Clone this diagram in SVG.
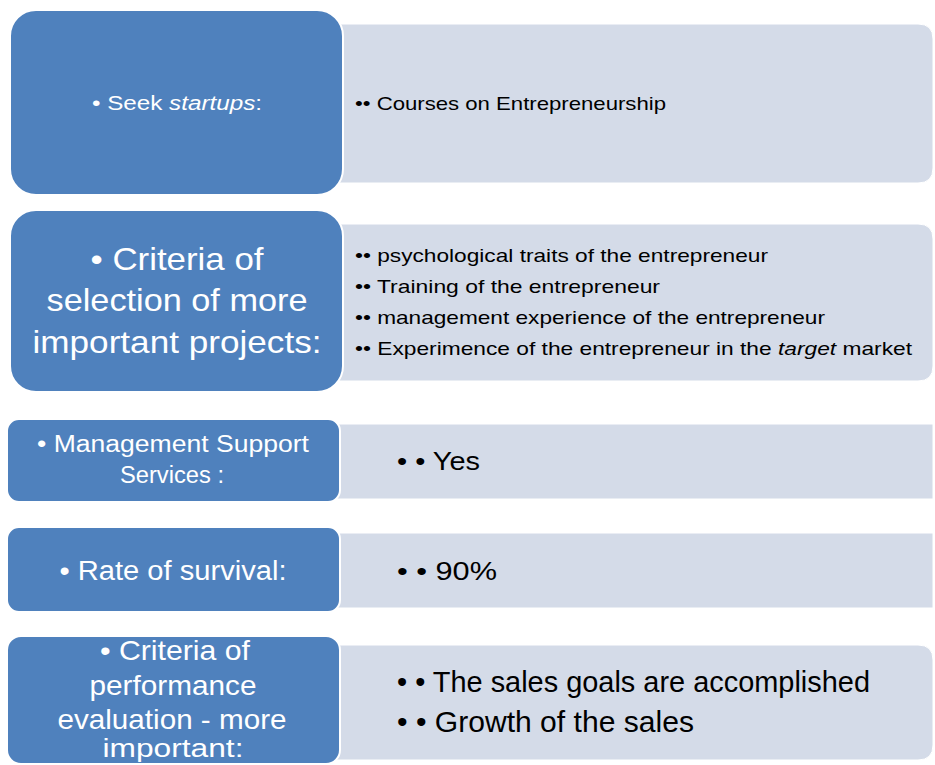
<svg xmlns="http://www.w3.org/2000/svg" width="935" height="765" viewBox="0 0 935 765">
<style>
.blue{fill:#4F81BD;stroke:#ffffff;stroke-width:2}
.gray{fill:#D4DBE8;stroke:#ffffff;stroke-width:1}
.lt{font-family:"Liberation Sans",Arial,sans-serif;fill:#ffffff;text-anchor:middle}
.rt{font-family:"Liberation Sans",Arial,sans-serif;fill:#000000}
.i{font-style:italic}
</style>
<rect width="935" height="765" fill="#ffffff"/>
<g id="row1">
<path class="gray" d="M330,24 H918 Q933,24 933,39 V168 Q933,183 918,183 H330 Z"/>
<rect class="blue" x="10" y="10" width="333" height="185" rx="26"/>
<text class="lt" x="177" y="110" font-size="20" textLength="170" lengthAdjust="spacingAndGlyphs">• Seek <tspan class="i">startups</tspan>:</text>
<text class="rt" x="355" y="110" font-size="19" textLength="311" lengthAdjust="spacingAndGlyphs">•• Courses on Entrepreneurship</text>
</g>
<g id="row2">
<path class="gray" d="M330,224 H918 Q933,224 933,239 V366 Q933,381 918,381 H330 Z"/>
<rect class="blue" x="10" y="210" width="333" height="182" rx="26"/>
<text class="lt" x="177" y="270" font-size="32" textLength="173" lengthAdjust="spacingAndGlyphs">• Criteria of</text>
<text class="lt" x="177" y="311" font-size="32" textLength="261" lengthAdjust="spacingAndGlyphs">selection of more</text>
<text class="lt" x="177" y="353" font-size="32" textLength="289" lengthAdjust="spacingAndGlyphs">important projects:</text>
<text class="rt" x="355" y="262" font-size="19" textLength="413" lengthAdjust="spacingAndGlyphs">•• psychological traits of the entrepreneur</text>
<text class="rt" x="355" y="293" font-size="19" textLength="305" lengthAdjust="spacingAndGlyphs">•• Training of the entrepreneur</text>
<text class="rt" x="355" y="324" font-size="19" textLength="470" lengthAdjust="spacingAndGlyphs">•• management experience of the entrepreneur</text>
<text class="rt" x="355" y="355" font-size="19" textLength="557" lengthAdjust="spacingAndGlyphs">•• Experimence of the entrepreneur in the <tspan class="i">target</tspan> market</text>
</g>
<g id="row3">
<path class="gray" d="M330,424 H933 V499 H330 Z"/>
<rect class="blue" x="7" y="419" width="333" height="83" rx="12"/>
<text class="lt" x="173" y="452" font-size="23" textLength="272" lengthAdjust="spacingAndGlyphs">• Management Support</text>
<text class="lt" x="172" y="483" font-size="23" textLength="104" lengthAdjust="spacingAndGlyphs">Services :</text>
<text class="rt" x="397" y="470" font-size="26" textLength="83" lengthAdjust="spacingAndGlyphs">• • Yes</text>
</g>
<g id="row4">
<path class="gray" d="M330,533 H933 V608 H330 Z"/>
<rect class="blue" x="7" y="527" width="333" height="85" rx="12"/>
<text class="lt" x="173" y="580" font-size="27" textLength="227" lengthAdjust="spacingAndGlyphs">• Rate of survival:</text>
<text class="rt" x="397" y="580" font-size="26" textLength="100" lengthAdjust="spacingAndGlyphs">• • 90%</text>
</g>
<g id="row5">
<path class="gray" d="M330,645 H918 Q933,645 933,660 V745 Q933,760 918,760 H330 Z"/>
<rect class="blue" x="7" y="636" width="333" height="128" rx="14"/>
<text class="lt" x="175" y="660" font-size="28" textLength="150" lengthAdjust="spacingAndGlyphs">• Criteria of</text>
<text class="lt" x="173" y="695" font-size="28" textLength="167" lengthAdjust="spacingAndGlyphs">performance</text>
<text class="lt" x="172" y="729" font-size="28" textLength="229" lengthAdjust="spacingAndGlyphs">evaluation - more</text>
<text class="lt" x="173" y="757" font-size="26" textLength="141" lengthAdjust="spacingAndGlyphs">important:</text>
<text class="rt" x="397" y="692" font-size="29" textLength="473" lengthAdjust="spacingAndGlyphs">• • The sales goals are accomplished</text>
<text class="rt" x="397" y="732" font-size="29" textLength="297" lengthAdjust="spacingAndGlyphs">• • Growth of the sales</text>
</g>
</svg>
